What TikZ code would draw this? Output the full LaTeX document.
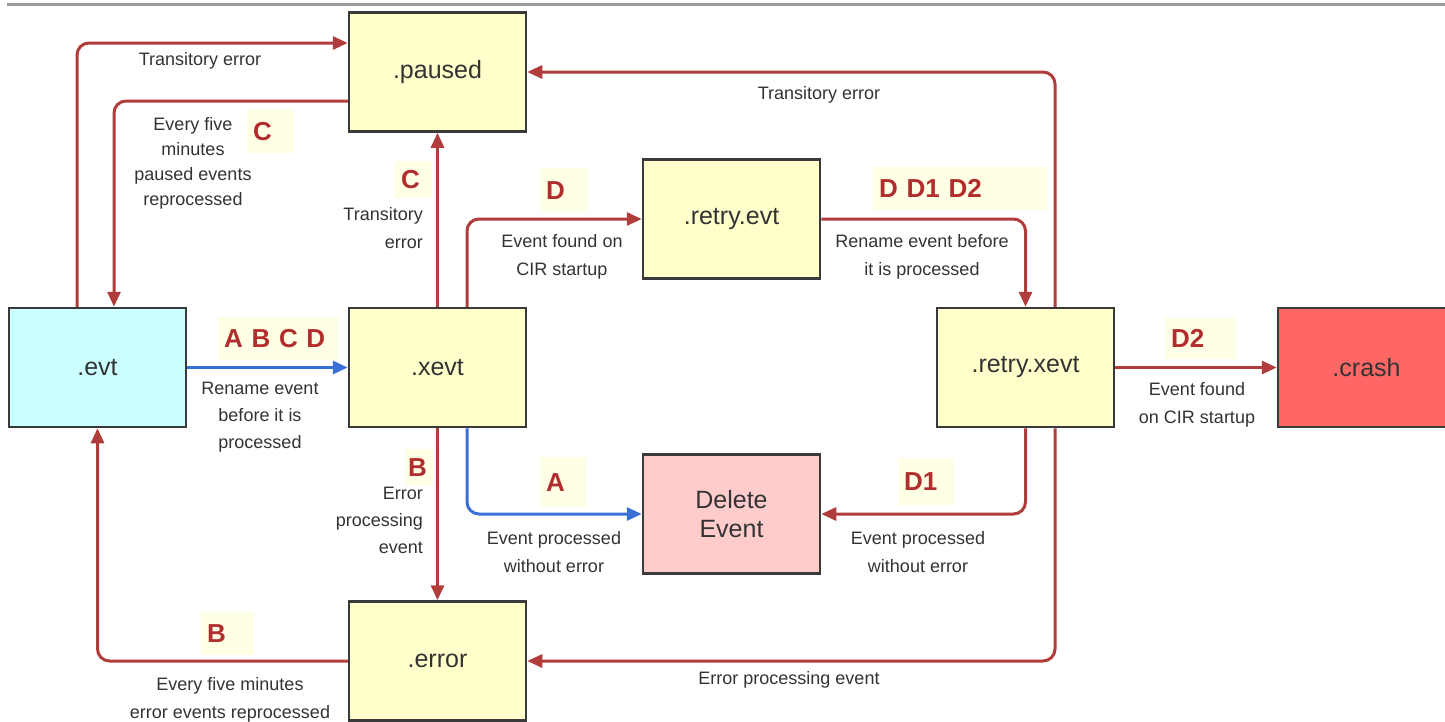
\documentclass[tikz,border=0pt]{standalone}
\usepackage{fontspec}
\setmainfont{Liberation Sans}
\usetikzlibrary{arrows.meta}
\definecolor{boxy}{HTML}{FFFFCC}
\definecolor{boxc}{HTML}{CCFFFF}
\definecolor{boxp}{HTML}{FFCCCC}
\definecolor{boxr}{HTML}{FF6666}
\definecolor{bord}{HTML}{3A3A3A}
\definecolor{redl}{HTML}{B03C3C}
\definecolor{bluel}{HTML}{3A6FD8}
\definecolor{redt}{HTML}{B22D2D}
\definecolor{lbf}{HTML}{FFFFE6}
\definecolor{txtg}{HTML}{333333}
\begin{document}
\begin{tikzpicture}[x=1pt,y=-1pt,
  st/.style={draw=bord, line width=2.5pt, minimum width=177pt, minimum height=119pt,
    inner sep=0pt, font=\fontsize{25}{29}\selectfont, text=txtg, align=center},
  rarr/.style={draw=redl, line width=3pt, rounded corners=12pt, -{Triangle[length=15pt,width=13pt]}},
  barr/.style={draw=bluel, line width=3pt, rounded corners=12pt, -{Triangle[length=15pt,width=13pt]}},
  el/.style={font=\fontsize{18}{28}\selectfont, text=txtg, align=center, inner sep=0pt},
  lb/.style={fill=lbf, inner xsep=6pt, inner ysep=0pt, anchor=north west, align=left,
    font=\bfseries\fontsize{26}{26}\selectfont, text=redt}]
\useasboundingbox (0,0) rectangle (1445,721);
\clip (0,0) rectangle (1445,721);
\draw[line width=3pt, draw=black!40] (7,4) -- (1445,4);

% boxes
\node[st, fill=boxy] (paused) at (437.5,72) {.paused};
\node[st, fill=boxc] (evt) at (97.5,367.5) {.evt};
\node[st, fill=boxy] (xevt) at (437.5,367.5) {.xevt};
\node[st, fill=boxy] (retry) at (731.5,219) {.retry.evt};
\node[st, fill=boxy] (rxevt) at (1025.5,367.5) {.retry.xevt};
\node[st, fill=boxr] (crash) at (1366.5,367.5) {.crash};
\node[st, fill=boxp] (del) at (731.5,514) {Delete\\Event};
\node[st, fill=boxy] (err) at (437.5,661) {.error};

% connectors
\draw[rarr] (evt.north -| 77,0) |- (paused.west |- 0,43);
\draw[rarr] (paused.west |- 0,101) -| (evt.north -| 114,0);
\draw[rarr] (xevt) -- (paused);
\draw[rarr] (xevt.north -| 467,0) |- (retry.west);
\draw[rarr] (retry.east) -| (rxevt.north);
\draw[rarr] (rxevt.north -| 1055,0) |- (paused.east);
\draw[barr] (evt) -- (xevt);
\draw[barr] (xevt.south -| 467,0) |- (del.west);
\draw[rarr] (xevt) -- (err);
\draw[rarr] (rxevt.south) |- (del.east);
\draw[rarr] (rxevt.south -| 1055,0) |- (err.east);
\draw[rarr] (err.west) -| (evt.south);
\draw[rarr] (rxevt) -- (crash);

% letter labels
\node[lb, text width=34pt, minimum height=44pt] (lC1) at (247,109) {C};
\node[lb, text width=25pt, minimum height=37pt] (lC2) at (395,161) {C};
\node[lb, text width=36pt, minimum height=44pt] (lD) at (540,168) {D};
\node[lb, text width=162pt, minimum height=43pt] (lDDD) at (873,167) {D D1 D2};
\node[lb, text width=108pt, minimum height=43pt] (lABCD) at (218,317) {A B C D};
\node[lb, text width=59pt, minimum height=41pt] (lD2) at (1165,318) {D2};
\node[lb, inner xsep=3pt, text width=22pt, minimum height=36pt] (lB1) at (405,449) {B};
\node[lb, text width=34pt, minimum height=50pt] (lA) at (540,457) {A};
\node[lb, text width=44pt, minimum height=47pt] (lD1) at (898,458) {D1};
\node[lb, text width=41pt, minimum height=43pt] (lB2) at (201,612) {B};

% edge texts
\node[el] (t1) at (200,61) {Transitory error};
\node[el, font=\fontsize{18}{25}\selectfont] (t2) at (193,163) {Every five\\minutes\\paused events\\reprocessed};
\node[el, anchor=east, align=right] (t3) at (423,228) {Transitory\\error};
\node[el] (t4) at (562,257) {Event found on\\CIR startup};
\node[el] (t5) at (922,257) {Rename event before\\it is processed};
\node[el] (t6) at (819,95) {Transitory error};
\node[el, font=\fontsize{18}{27}\selectfont] (t7) at (260,417) {Rename event\\before it is\\processed};
\node[el, anchor=east, align=right, font=\fontsize{18}{27}\selectfont] (t8) at (423,520) {Error\\processing\\event};
\node[el] (t9) at (554,552) {Event processed\\without error};
\node[el] (t10) at (918,552) {Event processed\\without error};
\node[el] (t11) at (1197,405) {Event found\\on CIR startup};
\node[el] (t12) at (789,680) {Error processing event};
\node[el] (t13) at (230,700) {Every five minutes\\error events reprocessed};
\end{tikzpicture}
\end{document}
